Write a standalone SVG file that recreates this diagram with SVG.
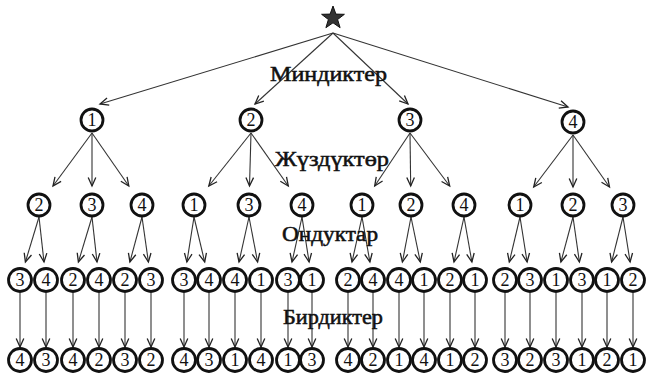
<svg xmlns="http://www.w3.org/2000/svg" width="647" height="377" viewBox="0 0 647 377">
<defs>
<marker id="ah" markerWidth="12" markerHeight="10" viewBox="-10 -5 12 10" refX="0" refY="0" orient="auto" markerUnits="userSpaceOnUse">
<path d="M-8.5,-3.8 L0,0 L-8.5,3.8" fill="none" stroke="#222" stroke-width="1.3"/>
</marker>
</defs>
<style>
.c{fill:#fff;stroke:#111;stroke-width:2.8}
.s{r:11}
.b{r:11.4}
.n{font-family:"Liberation Serif","DejaVu Serif",serif;font-size:18px;fill:#111;text-anchor:middle}
.l{font-family:"Liberation Serif","DejaVu Serif",serif;font-size:20px;fill:#111;stroke:#111;stroke-width:0.5}
#conn line{stroke:#333;stroke-width:1.1;marker-end:url(#ah)}
</style>
<rect width="647" height="377" fill="#fff"/>
<g id="conn">
<line x1="333" y1="33" x2="100" y2="104"/>
<line x1="333" y1="33" x2="255" y2="104"/>
<line x1="333" y1="33" x2="408" y2="104"/>
<line x1="333" y1="33" x2="568" y2="107"/>
<line x1="92" y1="133" x2="53" y2="186"/>
<line x1="92" y1="133" x2="92" y2="186"/>
<line x1="92" y1="133" x2="128.8" y2="186"/>
<line x1="251" y1="133" x2="208.8" y2="186"/>
<line x1="251" y1="133" x2="249.5" y2="186"/>
<line x1="251" y1="133" x2="288.3" y2="186"/>
<line x1="410" y1="133" x2="374.7" y2="186"/>
<line x1="410" y1="133" x2="410.7" y2="186"/>
<line x1="410" y1="133" x2="449.7" y2="186"/>
<line x1="573" y1="135" x2="533.7" y2="187"/>
<line x1="573" y1="135" x2="573" y2="187"/>
<line x1="573" y1="135" x2="609.5" y2="187"/>
<line x1="39" y1="217" x2="25.4" y2="262"/>
<line x1="39" y1="217" x2="44" y2="262"/>
<line x1="92" y1="217" x2="78.4" y2="262"/>
<line x1="92" y1="217" x2="97" y2="262"/>
<line x1="142" y1="217" x2="129.9" y2="262"/>
<line x1="142" y1="217" x2="148.4" y2="262"/>
<line x1="194" y1="217" x2="186.9" y2="262"/>
<line x1="194" y1="217" x2="204.7" y2="262"/>
<line x1="249" y1="217" x2="239" y2="262"/>
<line x1="249" y1="217" x2="257.6" y2="262"/>
<line x1="302" y1="217" x2="292" y2="262"/>
<line x1="302" y1="217" x2="309.1" y2="262"/>
<line x1="362" y1="217" x2="352" y2="262"/>
<line x1="362" y1="217" x2="369.9" y2="262"/>
<line x1="411" y1="217" x2="402.4" y2="262"/>
<line x1="411" y1="217" x2="420.3" y2="262"/>
<line x1="464" y1="217" x2="454" y2="262"/>
<line x1="464" y1="217" x2="471.9" y2="262"/>
<line x1="520" y1="217" x2="509.3" y2="262"/>
<line x1="520" y1="217" x2="527.1" y2="262"/>
<line x1="573" y1="217" x2="560.9" y2="262"/>
<line x1="573" y1="217" x2="579.4" y2="262"/>
<line x1="623" y1="217" x2="611.6" y2="262"/>
<line x1="623" y1="217" x2="630.1" y2="262"/>
<line x1="20" y1="293" x2="20" y2="347"/>
<line x1="46" y1="293" x2="46" y2="347"/>
<line x1="73" y1="293" x2="73" y2="347"/>
<line x1="99" y1="293" x2="99" y2="347"/>
<line x1="125" y1="293" x2="125" y2="347"/>
<line x1="151" y1="293" x2="151" y2="347"/>
<line x1="184" y1="293" x2="184" y2="347"/>
<line x1="209" y1="293" x2="209" y2="347"/>
<line x1="235" y1="293" x2="235" y2="347"/>
<line x1="261" y1="293" x2="261" y2="347"/>
<line x1="288" y1="293" x2="288" y2="347"/>
<line x1="312" y1="293" x2="312" y2="347"/>
<line x1="348" y1="293" x2="348" y2="347"/>
<line x1="373" y1="293" x2="373" y2="347"/>
<line x1="399" y1="293" x2="399" y2="347"/>
<line x1="424" y1="293" x2="424" y2="347"/>
<line x1="450" y1="293" x2="450" y2="347"/>
<line x1="475" y1="293" x2="475" y2="347"/>
<line x1="505" y1="293" x2="505" y2="347"/>
<line x1="530" y1="293" x2="530" y2="347"/>
<line x1="556" y1="293" x2="556" y2="347"/>
<line x1="582" y1="293" x2="582" y2="347"/>
<line x1="607" y1="293" x2="607" y2="347"/>
<line x1="633" y1="293" x2="633" y2="347"/>
</g>
<g id="labels">
<text class="l" x="270" y="81" textLength="117" lengthAdjust="spacingAndGlyphs">Миндиктер</text>
<text class="l" x="275" y="166" textLength="114" lengthAdjust="spacingAndGlyphs">Жүздүктөр</text>
<text class="l" x="282" y="241" textLength="96" lengthAdjust="spacingAndGlyphs">Ондуктар</text>
<text class="l" x="283" y="324" textLength="100" lengthAdjust="spacingAndGlyphs">Бирдиктер</text>
</g>
<g id="root">
<polygon points="333,6 335.9,14.1 344.4,14.3 337.6,19.5 340.1,27.7 333,22.8 325.9,27.7 328.4,19.5 321.6,14.3 330.1,14.1" fill="#333" stroke="#111" stroke-width="1"/>
</g>
<g id="n1"><circle class="c" cx="92" cy="120" r="11"/><text class="n" x="92" y="126">1</text></g>
<g id="n2"><circle class="c" cx="251" cy="120" r="11"/><text class="n" x="251" y="126">2</text></g>
<g id="n3"><circle class="c" cx="410" cy="120" r="11"/><text class="n" x="410" y="126">3</text></g>
<g id="n4"><circle class="c" cx="573" cy="122" r="11"/><text class="n" x="573" y="128">4</text></g>
<g id="n1_2"><circle class="c" cx="39" cy="205" r="11"/><text class="n" x="39" y="211">2</text></g>
<g id="n1_3"><circle class="c" cx="92" cy="205" r="11"/><text class="n" x="92" y="211">3</text></g>
<g id="n1_4"><circle class="c" cx="142" cy="205" r="11"/><text class="n" x="142" y="211">4</text></g>
<g id="n2_1"><circle class="c" cx="194" cy="205" r="11"/><text class="n" x="194" y="211">1</text></g>
<g id="n2_3"><circle class="c" cx="249" cy="205" r="11"/><text class="n" x="249" y="211">3</text></g>
<g id="n2_4"><circle class="c" cx="302" cy="205" r="11"/><text class="n" x="302" y="211">4</text></g>
<g id="n3_1"><circle class="c" cx="362" cy="205" r="11"/><text class="n" x="362" y="211">1</text></g>
<g id="n3_2"><circle class="c" cx="411" cy="205" r="11"/><text class="n" x="411" y="211">2</text></g>
<g id="n3_4"><circle class="c" cx="464" cy="205" r="11"/><text class="n" x="464" y="211">4</text></g>
<g id="n4_1"><circle class="c" cx="520" cy="205" r="11"/><text class="n" x="520" y="211">1</text></g>
<g id="n4_2"><circle class="c" cx="573" cy="205" r="11"/><text class="n" x="573" y="211">2</text></g>
<g id="n4_3"><circle class="c" cx="623" cy="205" r="11"/><text class="n" x="623" y="211">3</text></g>
<g id="t1"><circle class="c" cx="20" cy="280" r="11.5"/><text class="n" x="20" y="286">3</text></g>
<g id="t2"><circle class="c" cx="46" cy="280" r="11.5"/><text class="n" x="46" y="286">4</text></g>
<g id="t3"><circle class="c" cx="73" cy="280" r="11.5"/><text class="n" x="73" y="286">2</text></g>
<g id="t4"><circle class="c" cx="99" cy="280" r="11.5"/><text class="n" x="99" y="286">4</text></g>
<g id="t5"><circle class="c" cx="125" cy="280" r="11.5"/><text class="n" x="125" y="286">2</text></g>
<g id="t6"><circle class="c" cx="151" cy="280" r="11.5"/><text class="n" x="151" y="286">3</text></g>
<g id="t7"><circle class="c" cx="184" cy="280" r="11.5"/><text class="n" x="184" y="286">3</text></g>
<g id="t8"><circle class="c" cx="209" cy="280" r="11.5"/><text class="n" x="209" y="286">4</text></g>
<g id="t9"><circle class="c" cx="235" cy="280" r="11.5"/><text class="n" x="235" y="286">4</text></g>
<g id="t10"><circle class="c" cx="261" cy="280" r="11.5"/><text class="n" x="261" y="286">1</text></g>
<g id="t11"><circle class="c" cx="288" cy="280" r="11.5"/><text class="n" x="288" y="286">3</text></g>
<g id="t12"><circle class="c" cx="312" cy="280" r="11.5"/><text class="n" x="312" y="286">1</text></g>
<g id="t13"><circle class="c" cx="348" cy="280" r="11.5"/><text class="n" x="348" y="286">2</text></g>
<g id="t14"><circle class="c" cx="373" cy="280" r="11.5"/><text class="n" x="373" y="286">4</text></g>
<g id="t15"><circle class="c" cx="399" cy="280" r="11.5"/><text class="n" x="399" y="286">4</text></g>
<g id="t16"><circle class="c" cx="424" cy="280" r="11.5"/><text class="n" x="424" y="286">1</text></g>
<g id="t17"><circle class="c" cx="450" cy="280" r="11.5"/><text class="n" x="450" y="286">2</text></g>
<g id="t18"><circle class="c" cx="475" cy="280" r="11.5"/><text class="n" x="475" y="286">1</text></g>
<g id="t19"><circle class="c" cx="505" cy="280" r="11.5"/><text class="n" x="505" y="286">2</text></g>
<g id="t20"><circle class="c" cx="530" cy="280" r="11.5"/><text class="n" x="530" y="286">3</text></g>
<g id="t21"><circle class="c" cx="556" cy="280" r="11.5"/><text class="n" x="556" y="286">1</text></g>
<g id="t22"><circle class="c" cx="582" cy="280" r="11.5"/><text class="n" x="582" y="286">3</text></g>
<g id="t23"><circle class="c" cx="607" cy="280" r="11.5"/><text class="n" x="607" y="286">1</text></g>
<g id="t24"><circle class="c" cx="633" cy="280" r="11.5"/><text class="n" x="633" y="286">2</text></g>
<g id="u1"><circle class="c" cx="20" cy="360" r="11.5"/><text class="n" x="20" y="366">4</text></g>
<g id="u2"><circle class="c" cx="46" cy="360" r="11.5"/><text class="n" x="46" y="366">3</text></g>
<g id="u3"><circle class="c" cx="73" cy="360" r="11.5"/><text class="n" x="73" y="366">4</text></g>
<g id="u4"><circle class="c" cx="99" cy="360" r="11.5"/><text class="n" x="99" y="366">2</text></g>
<g id="u5"><circle class="c" cx="125" cy="360" r="11.5"/><text class="n" x="125" y="366">3</text></g>
<g id="u6"><circle class="c" cx="151" cy="360" r="11.5"/><text class="n" x="151" y="366">2</text></g>
<g id="u7"><circle class="c" cx="184" cy="360" r="11.5"/><text class="n" x="184" y="366">4</text></g>
<g id="u8"><circle class="c" cx="209" cy="360" r="11.5"/><text class="n" x="209" y="366">3</text></g>
<g id="u9"><circle class="c" cx="235" cy="360" r="11.5"/><text class="n" x="235" y="366">1</text></g>
<g id="u10"><circle class="c" cx="261" cy="360" r="11.5"/><text class="n" x="261" y="366">4</text></g>
<g id="u11"><circle class="c" cx="288" cy="360" r="11.5"/><text class="n" x="288" y="366">1</text></g>
<g id="u12"><circle class="c" cx="312" cy="360" r="11.5"/><text class="n" x="312" y="366">3</text></g>
<g id="u13"><circle class="c" cx="348" cy="360" r="11.5"/><text class="n" x="348" y="366">4</text></g>
<g id="u14"><circle class="c" cx="373" cy="360" r="11.5"/><text class="n" x="373" y="366">2</text></g>
<g id="u15"><circle class="c" cx="399" cy="360" r="11.5"/><text class="n" x="399" y="366">1</text></g>
<g id="u16"><circle class="c" cx="424" cy="360" r="11.5"/><text class="n" x="424" y="366">4</text></g>
<g id="u17"><circle class="c" cx="450" cy="360" r="11.5"/><text class="n" x="450" y="366">1</text></g>
<g id="u18"><circle class="c" cx="475" cy="360" r="11.5"/><text class="n" x="475" y="366">2</text></g>
<g id="u19"><circle class="c" cx="505" cy="360" r="11.5"/><text class="n" x="505" y="366">3</text></g>
<g id="u20"><circle class="c" cx="530" cy="360" r="11.5"/><text class="n" x="530" y="366">2</text></g>
<g id="u21"><circle class="c" cx="556" cy="360" r="11.5"/><text class="n" x="556" y="366">3</text></g>
<g id="u22"><circle class="c" cx="582" cy="360" r="11.5"/><text class="n" x="582" y="366">1</text></g>
<g id="u23"><circle class="c" cx="607" cy="360" r="11.5"/><text class="n" x="607" y="366">2</text></g>
<g id="u24"><circle class="c" cx="633" cy="360" r="11.5"/><text class="n" x="633" y="366">1</text></g>
</svg>
